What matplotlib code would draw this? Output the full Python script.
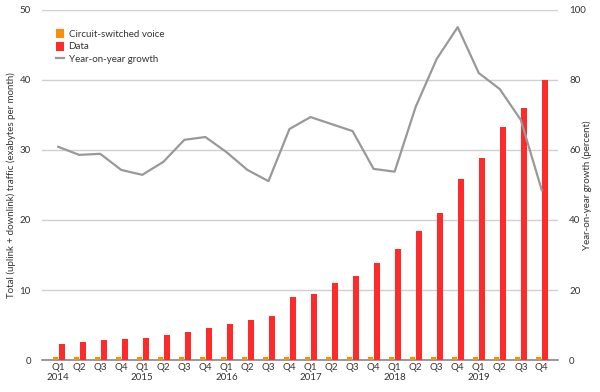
import numpy as np
import matplotlib.pyplot as plt
from matplotlib.patches import Patch
from matplotlib.lines import Line2D

quarters = ["Q1", "Q2", "Q3", "Q4"] * 6
years = ["2014", "2015", "2016", "2017", "2018", "2019"]
voice = [0.4] * 24
data = [2.35, 2.6, 2.9, 3.05, 3.2, 3.6, 4.05, 4.6, 5.15, 5.7, 6.35, 9.05,
        9.5, 10.95, 11.95, 13.9, 15.9, 18.4, 21.0, 25.8, 28.8, 33.3, 36.0, 40.0]
growth = [60.9, 58.6, 58.9, 54.3, 52.9, 56.6, 62.9, 63.7, 59.4, 54.3, 51.1, 66.0,
          69.4, 67.4, 65.4, 54.6, 53.8, 72.3, 86.0, 95.1, 82.0, 77.4, 68.6, 48.5]

ORANGE = "#ff8c0a"
RED = "#ff2a2a"
GREY = "#999999"
TXT = "#333333"

plt.rcParams['font.family'] = ['Lato', 'DejaVu Sans']

fig = plt.figure(figsize=(6, 3.92), dpi=100)
ax = fig.add_axes([0.07, 0.0816, 0.86, 0.893])
x = np.arange(len(data))

ax.bar(x - 0.15, voice, width=0.24, color=ORANGE, zorder=3)
ax.bar(x + 0.16, data, width=0.29, color=RED, zorder=3)

ax.set_xlim(-0.77, 23.77)
ax.set_ylim(0, 50)
ax.set_yticks(range(0, 51, 10))
ax.yaxis.grid(True, color="#d0d0d0", linewidth=1)
ax.set_axisbelow(True)
for s in ["top", "right", "left"]:
    ax.spines[s].set_visible(False)
ax.spines["bottom"].set_color("#888888")
ax.spines["bottom"].set_linewidth(1.2)

labels = []
for i, q in enumerate(quarters):
    if q == "Q1":
        labels.append(q + "\n" + years[i // 4])
    else:
        labels.append(q)
ax.set_xticks(x)
ax.set_xticklabels(labels, fontsize=7, color=TXT, linespacing=1.2, va="top")
ax.tick_params(axis="x", length=0, pad=2)
ax.tick_params(axis="y", length=0, labelsize=7, labelcolor=TXT, pad=8)
ax.set_ylabel("Total (uplink + downlink) traffic (exabytes per month)",
              fontsize=7, color=TXT)
ax.yaxis.set_label_coords(-0.05, 0.5)

ax2 = ax.twinx()
ax2.plot(x, growth, color=GREY, linewidth=1.6, zorder=4)
ax2.set_ylim(0, 100)
ax2.set_yticks(range(0, 101, 20))
for s in ["top", "right", "left", "bottom"]:
    ax2.spines[s].set_visible(False)
ax2.tick_params(axis="y", length=0, labelsize=7, labelcolor=TXT, pad=8)
ax2.set_ylabel("Year-on-year growth (percent)", fontsize=7, color=TXT)
ax2.yaxis.set_label_coords(1.048, 0.5)

handles = [Patch(facecolor=ORANGE, label="Circuit-switched voice"),
           Patch(facecolor=RED, label="Data"),
           Line2D([0], [0], color=GREY, linewidth=1.6, label="Year-on-year growth")]
ax.legend(handles=handles, loc="upper left", bbox_to_anchor=(0.01, 0.97),
          frameon=False, fontsize=7, handlelength=0.8, handleheight=1.0,
          handletextpad=0.5, labelspacing=0.3, labelcolor=TXT)

fig.savefig("out.png", dpi=100)
